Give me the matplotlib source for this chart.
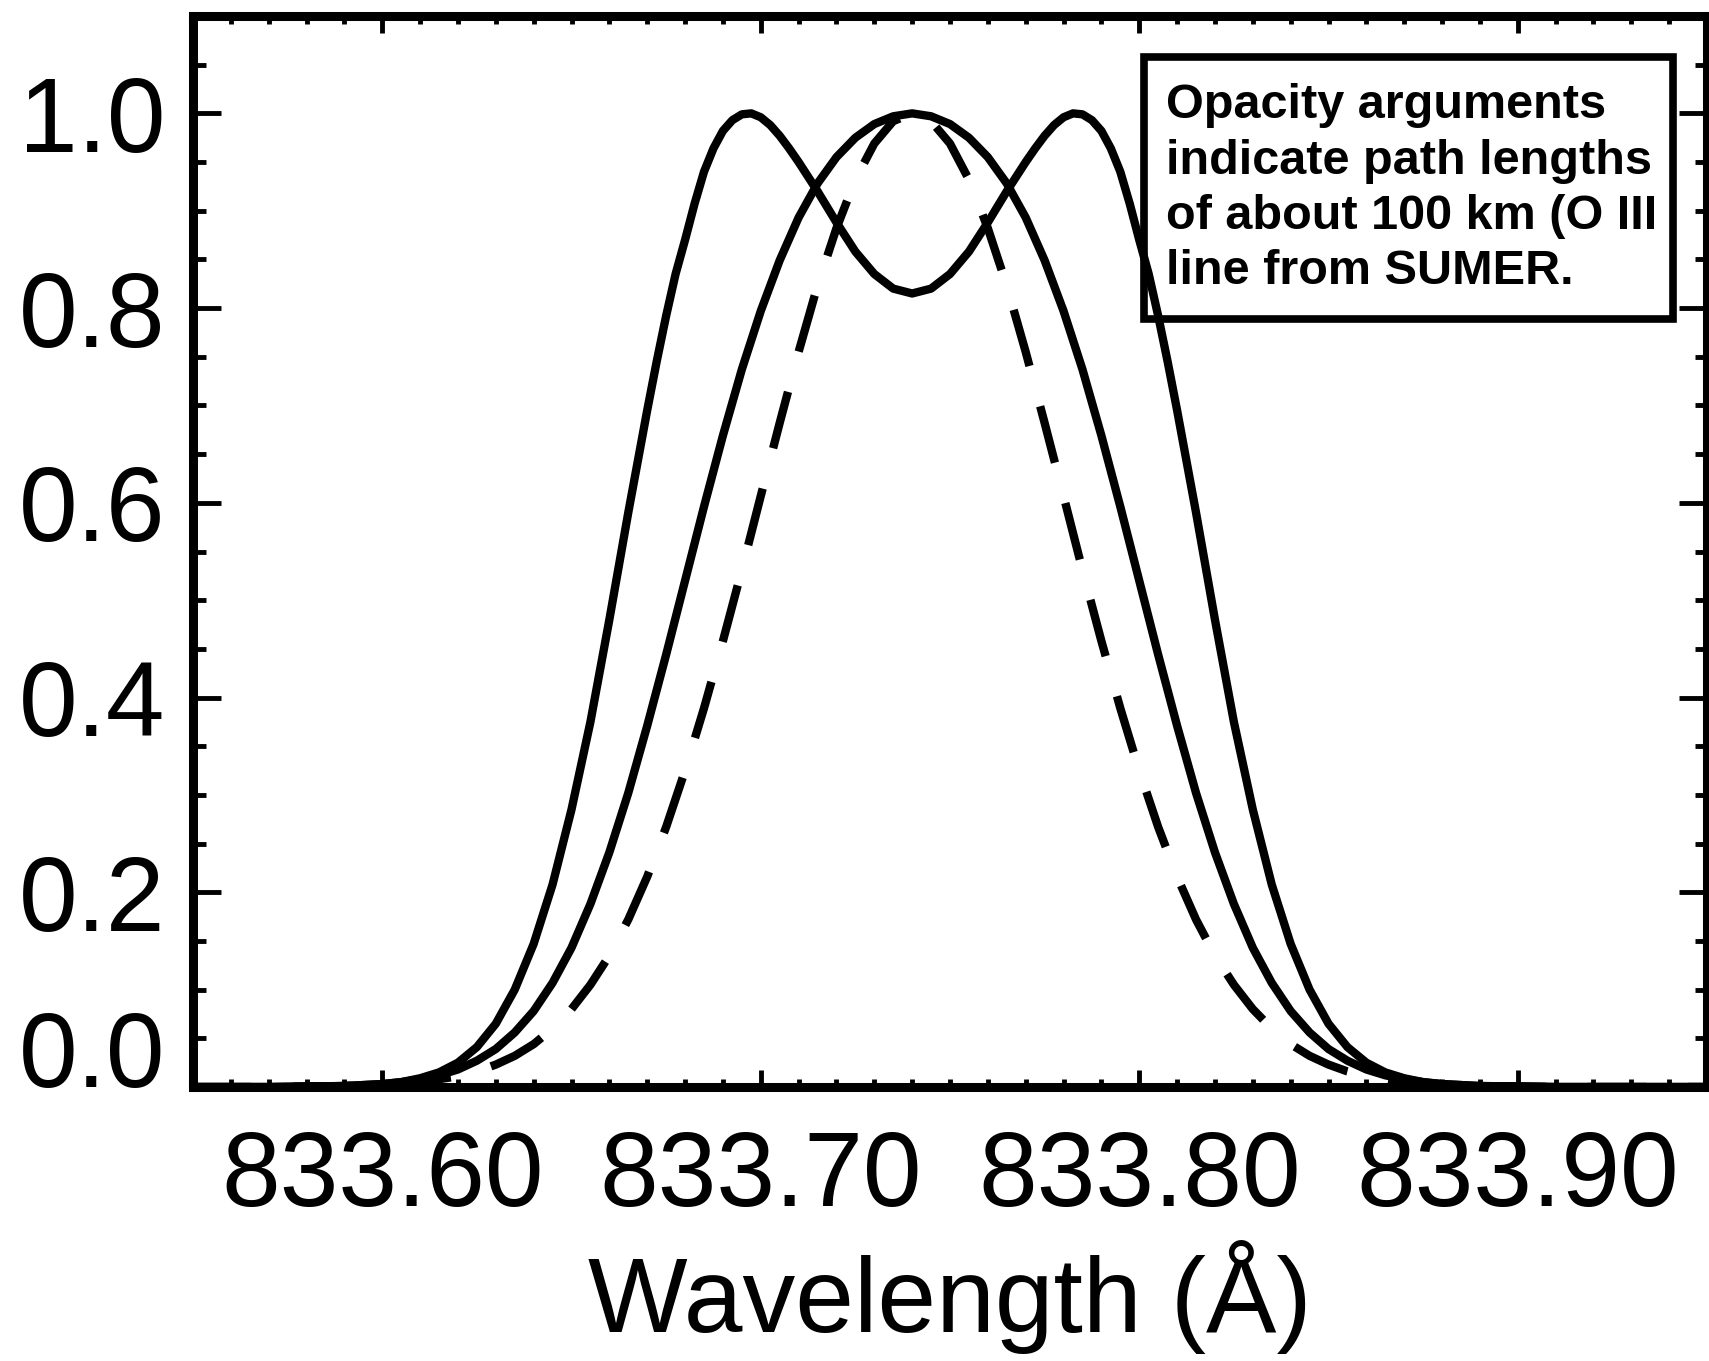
import matplotlib
matplotlib.use('Agg')
import matplotlib.pyplot as plt
from matplotlib.patches import Rectangle
from matplotlib.ticker import MultipleLocator

plt.rcParams['font.family'] = ['Liberation Sans', 'DejaVu Sans']

# wavelength samples (Angstrom) for the two single peaked profiles
wavelength = [833.55, 833.57, 833.59,
              833.600, 833.605, 833.610, 833.615, 833.620, 833.625, 833.630, 833.635, 833.640, 833.645,
              833.650, 833.655, 833.660, 833.665, 833.670, 833.675, 833.680, 833.685, 833.690, 833.695,
              833.700, 833.705, 833.710, 833.715, 833.720, 833.725, 833.730, 833.735, 833.740, 833.745,
              833.750, 833.755, 833.760, 833.765, 833.770, 833.775, 833.780, 833.785, 833.790, 833.795,
              833.800, 833.805, 833.810, 833.815, 833.820, 833.825, 833.830, 833.835, 833.840, 833.845,
              833.850, 833.855, 833.860, 833.865, 833.870, 833.875, 833.880,
              833.89, 833.91, 833.95]

# saturated (flat topped) profile
saturated_profile = [0.0, 0.0, 0.001,
                     0.003, 0.005, 0.008, 0.012, 0.018, 0.027, 0.039, 0.056, 0.078, 0.107,
                     0.143, 0.188, 0.241, 0.302, 0.371, 0.444, 0.520, 0.596, 0.669, 0.737,
                     0.797, 0.849, 0.893, 0.928, 0.955, 0.975, 0.989, 0.997, 1.000, 0.997,
                     0.989, 0.975, 0.955, 0.928, 0.893, 0.849, 0.797, 0.737, 0.669, 0.596,
                     0.520, 0.444, 0.371, 0.302, 0.241, 0.188, 0.143, 0.107, 0.078, 0.056,
                     0.039, 0.027, 0.018, 0.012, 0.008, 0.005, 0.003,
                     0.001, 0.0, 0.0]

# optically thin profile (dashed)
thin_profile = [0.0, 0.0, 0.001,
                0.002, 0.003, 0.005, 0.008, 0.011, 0.016, 0.023, 0.032, 0.044, 0.060,
                0.080, 0.105, 0.135, 0.172, 0.216, 0.267, 0.325, 0.389, 0.458, 0.531,
                0.607, 0.682, 0.755, 0.823, 0.882, 0.932, 0.969, 0.992, 1.000, 0.992,
                0.969, 0.932, 0.882, 0.823, 0.755, 0.682, 0.607, 0.531, 0.458, 0.389,
                0.325, 0.267, 0.216, 0.172, 0.135, 0.105, 0.080, 0.060, 0.044, 0.032,
                0.023, 0.016, 0.011, 0.008, 0.005, 0.003, 0.002,
                0.001, 0.0, 0.0]

# self-reversed (double peaked) profile, sampled finer around the two peaks
reversed_wavelength = [833.55, 833.57, 833.59,
                       833.600, 833.605, 833.610, 833.615, 833.620, 833.625, 833.630,
                       833.635, 833.640, 833.645, 833.650, 833.655, 833.660, 833.665,
                       833.670, 833.6725, 833.675, 833.6775, 833.680, 833.6825, 833.685, 833.6875,
                       833.690, 833.6925, 833.695, 833.6975, 833.700, 833.7025, 833.705, 833.7075,
                       833.710,
                       833.715, 833.720, 833.725, 833.730, 833.735, 833.740, 833.745, 833.750,
                       833.755, 833.760, 833.765,
                       833.770, 833.7725, 833.775, 833.7775, 833.780, 833.7825, 833.785, 833.7875,
                       833.790, 833.7925, 833.795, 833.7975, 833.800, 833.8025, 833.805, 833.8075,
                       833.810,
                       833.815, 833.820, 833.825, 833.830, 833.835, 833.840, 833.845,
                       833.850, 833.855, 833.860, 833.865, 833.870, 833.875, 833.880,
                       833.89, 833.91, 833.95]

reversed_profile = [0.0, 0.0, 0.001,
                    0.003, 0.005, 0.009, 0.015, 0.025, 0.041, 0.065,
                    0.100, 0.147, 0.208, 0.285, 0.375, 0.480, 0.590,
                    0.695, 0.745, 0.792, 0.835, 0.870, 0.907, 0.940, 0.964,
                    0.982, 0.993, 0.999, 1.000, 0.996, 0.988, 0.977, 0.964,
                    0.950,
                    0.920, 0.888, 0.858, 0.835, 0.820, 0.815, 0.820, 0.835,
                    0.858, 0.888, 0.920,
                    0.950, 0.964, 0.977, 0.988, 0.996, 1.000, 0.999, 0.993,
                    0.982, 0.964, 0.940, 0.907, 0.870, 0.835, 0.792, 0.745,
                    0.695,
                    0.590, 0.480, 0.375, 0.285, 0.208, 0.147, 0.100,
                    0.065, 0.041, 0.025, 0.015, 0.009, 0.005, 0.003,
                    0.001, 0.0, 0.0]

xticks = [833.60, 833.70, 833.80, 833.90]
yticks = [0.0, 0.2, 0.4, 0.6, 0.8, 1.0]

note = "Opacity arguments\nindicate path lengths\nof about 100 km (O III\nline from SUMER."

fig = plt.figure(figsize=(17.09, 13.61), dpi=100)
ax = fig.add_axes([193 / 1709, 1 - 1087 / 1361, (1707 - 193) / 1709, (1087 - 16) / 1361])

ax.plot(reversed_wavelength, reversed_profile, color='black', lw=6)
ax.plot(wavelength, saturated_profile, color='black', lw=6)
ax.plot(wavelength, thin_profile, color='black', lw=6, dashes=(7, 5))

ax.set_xlim(833.55, 833.95)
ax.set_ylim(0, 1.1)

ax.set_xticks(xticks)
ax.set_xticklabels(['%.2f' % t for t in xticks])
ax.set_yticks(yticks)
ax.set_yticklabels(['%.1f' % t for t in yticks])
ax.xaxis.set_minor_locator(MultipleLocator(0.01))
ax.yaxis.set_minor_locator(MultipleLocator(0.05))

ax.tick_params(which='both', direction='in', top=True, right=True, width=3.5, labelsize=76)
ax.tick_params(axis='x', which='major', length=12, pad=30)
ax.tick_params(axis='x', which='minor', length=6)
ax.tick_params(axis='y', which='major', length=20, pad=20)
ax.tick_params(axis='y', which='minor', length=9)
ax.get_yticklabels()[0].set_va('baseline')

for s in ax.spines.values():
    s.set_linewidth(6.5)

ax.set_xlabel('Wavelength (Å)', fontsize=76, labelpad=9)

box = Rectangle((1144 / 1709, 1 - 319 / 1361), (1673 - 1144) / 1709, (319 - 57) / 1361,
                transform=fig.transFigure, fill=False, lw=5.5, edgecolor='black')
fig.patches.append(box)
fig.text(1166 / 1709, 1 - 83 / 1361, note, fontsize=35, fontweight='bold',
         va='top', ha='left', linespacing=1.3)

plt.savefig('out.png', dpi=100)
